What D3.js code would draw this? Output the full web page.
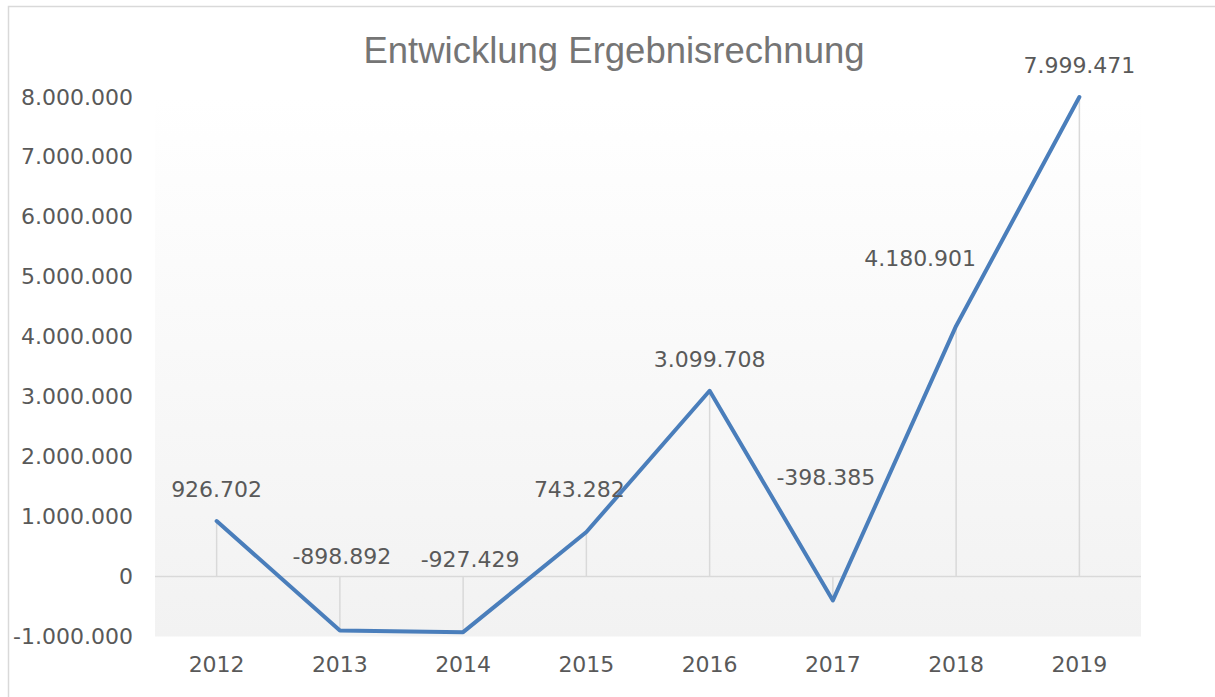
<!DOCTYPE html>
<html>
<head>
<meta charset="utf-8">
<script src="https://cdn.jsdelivr.net/npm/d3@7"></script>
<style>
  html, body { margin: 0; padding: 0; background: #ffffff; }
  svg { display: block; }
</style>
</head>
<body>
<svg id="chart" width="1215" height="697"></svg>
<script>
// ---- data ----
const title = "Entwicklung Ergebnisrechnung";
const years = ["2012", "2013", "2014", "2015", "2016", "2017", "2018", "2019"];
const values = [926702, -898892, -927429, 743282, 3099708, -398385, 4180901, 7999471];
const yTicks = [-1000000, 0, 1000000, 2000000, 3000000, 4000000, 5000000, 6000000, 7000000, 8000000];
// label nudges (layout only, px): [dx, dy] relative to the point
const labelNudge = [[0, -24], [2, -66], [7, -65], [-7, -35], [0, -24], [-7, -115], [-36, -60], [0, -24]];

// ---- layout ----
const svg = d3.select("#chart");
const W = 1215, H = 697;
const plot = { left: 155, right: 1141, top: 97, bottom: 636.5 };

const de = d3.formatLocale({ decimal: ",", thousands: ".", grouping: [3], currency: ["", " €"], minus: "-" });
const fmt = de.format(",d");

const x = d3.scaleBand().domain(years).range([plot.left, plot.right]).padding(0);
const y = d3.scaleLinear().domain([-1000000, 8000000]).range([plot.bottom, plot.top]);
const cx = d => x(d) + x.bandwidth() / 2;

// chart border
svg.append("rect").attr("x", 8.5).attr("y", 6.5).attr("width", W).attr("height", H)
  .attr("fill", "#ffffff").attr("stroke", "#d9d9d9").attr("stroke-width", 1.5);

// plot area gradient
const defs = svg.append("defs");
const grad = defs.append("linearGradient").attr("id", "pg").attr("x1", 0).attr("y1", 0).attr("x2", 0).attr("y2", 1);
grad.append("stop").attr("offset", "0%").attr("stop-color", "#ffffff");
grad.append("stop").attr("offset", "100%").attr("stop-color", "#f2f2f2");
svg.append("rect").attr("x", plot.left).attr("y", plot.top)
  .attr("width", plot.right - plot.left).attr("height", plot.bottom - plot.top)
  .attr("fill", "url(#pg)");

// drop lines
svg.append("g").selectAll("line").data(years).join("line")
  .attr("x1", d => cx(d)).attr("x2", d => cx(d))
  .attr("y1", y(0)).attr("y2", (d, i) => y(values[i]))
  .attr("stroke", "#d9d9d9").attr("stroke-width", 1.5);

// zero axis line
svg.append("line").attr("x1", plot.left).attr("x2", plot.right)
  .attr("y1", y(0)).attr("y2", y(0))
  .attr("stroke", "#d9d9d9").attr("stroke-width", 1.5);

// axes
const axisFont = "'DejaVu Sans', Verdana, sans-serif";
const yAxis = svg.append("g").attr("transform", `translate(${plot.left},0)`)
  .call(d3.axisLeft(y).tickValues(yTicks).tickFormat(fmt).tickSize(0).tickPadding(22));
yAxis.select(".domain").remove();
yAxis.selectAll("text").attr("font-family", axisFont).attr("font-size", 22).attr("fill", "#595959");

const xAxis = svg.append("g").attr("transform", `translate(0,${plot.bottom})`)
  .call(d3.axisBottom(x).tickSize(0).tickPadding(20));
xAxis.select(".domain").remove();
xAxis.selectAll("text").attr("font-family", axisFont).attr("font-size", 22).attr("fill", "#595959");

// line
const line = d3.line().x((d, i) => cx(years[i])).y(d => y(d));
svg.append("path").datum(values).attr("d", line)
  .attr("fill", "none").attr("stroke", "#4a7ebb").attr("stroke-width", 4)
  .attr("stroke-linejoin", "round").attr("stroke-linecap", "round");

// data labels
svg.append("g").selectAll("text").data(values).join("text")
  .attr("x", (d, i) => cx(years[i]) + labelNudge[i][0])
  .attr("y", (d, i) => y(d) + labelNudge[i][1])
  .attr("text-anchor", "middle")
  .attr("font-family", axisFont).attr("font-size", 22).attr("fill", "#595959")
  .text(d => fmt(d));

// title
svg.append("text").attr("x", 614).attr("y", 63).attr("text-anchor", "middle")
  .attr("font-family", "'Liberation Sans', Arial, sans-serif").attr("font-size", 36.5)
  .attr("fill", "#757575").text(title);
</script>
</body>
</html>
